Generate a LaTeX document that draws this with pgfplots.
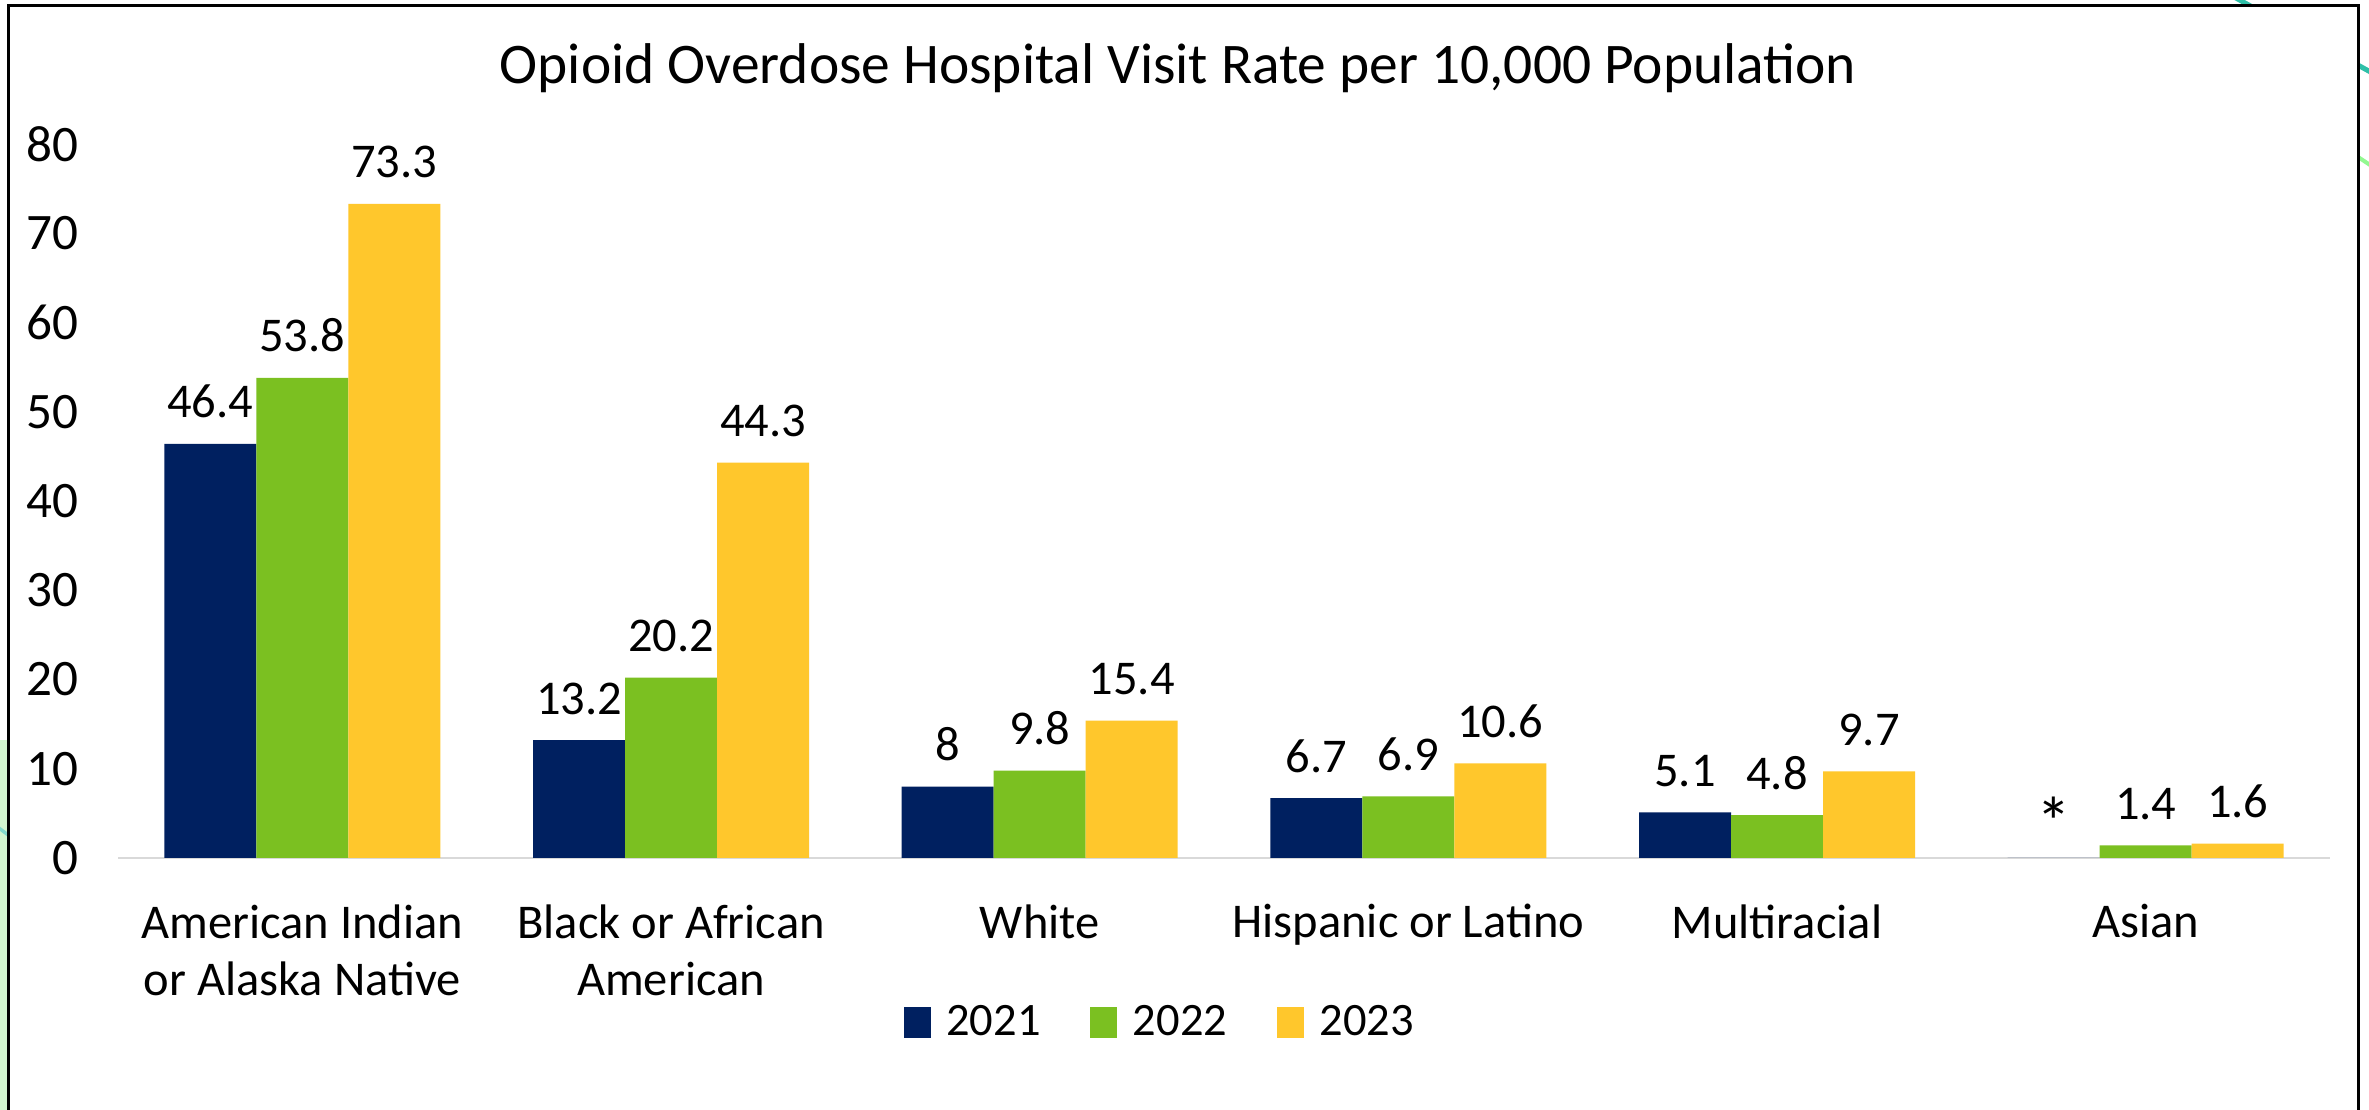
\documentclass[border=0pt]{standalone}
\usepackage{pgfplots}
\pgfplotsset{compat=1.18}
\usepackage{fontspec}
\setmainfont{Carlito}
\definecolor{cNavy}{HTML}{002060}
\definecolor{cGreen}{HTML}{7BC021}
\definecolor{cYellow}{HTML}{FFC72C}
\definecolor{cTeal}{HTML}{2FBFA8}
\definecolor{cLight}{HTML}{D2F5CF}
\begin{document}
\begin{tikzpicture}[x=0.3bp,y=0.3bp]
\path[use as bounding box] (0,0) rectangle (2369,1110);
% decorative background strokes
\fill[cLight] (0,0) rectangle (8,370);
\draw[cTeal, line width=1.5bp] (2225,1118) -- (2385,1030);
\draw[cLight!70!green, line width=1.2bp] (2340,965) -- (2385,935);
\draw[cTeal!60, line width=1.0bp] (-5,285) -- (12,272);
% frame
\fill[white] (8,0) rectangle (2358,1104);
\draw[black, line width=0.9bp] (8,0) -- (8,1104) -- (2358,1104) -- (2358,0);
\node[font=\fontsize{17.3}{20}\selectfont] at (1178,1042) {Opioid Overdose Hospital Visit Rate per 10,000 Population};
\begin{axis}[
  at={(35.4bp,75.6bp)}, anchor=south west,
  scale only axis, width=663.6bp, height=214.2bp,
  xmin=-0.5, xmax=5.5, ymin=0, ymax=80,
  ybar=0pt, bar width=27.6bp,
  axis lines*=left,
  y axis line style={draw=none},
  x axis line style={draw=black!15, line width=0.6bp, -},
  major tick length=0pt,
  ytick={0,10,...,80},
  xtick={0,1,2,3,4,5},
  xticklabels={{American Indian\\or Alaska Native},{Black or African\\American},White,Hispanic or Latino,Multiracial,Asian},
  /pgf/number format/assume math mode=true,
  xticklabel style={font=\fontsize{14.6}{17.3}\selectfont, align=center, anchor=north, yshift=-10.4bp},
  yticklabel style={font=\fontsize{15.4}{18}\selectfont, anchor=east, xshift=-8.5bp},
  nodes near coords,
  point meta=explicit symbolic,
  every node near coord/.append style={font=\fontsize{14.6}{17}\selectfont, inner sep=0pt, yshift=7.5bp, black},
  legend columns=3,
  legend style={draw=none, at={(0.472,-0.231)}, anchor=center, font=\fontsize{14}{16}\selectfont,
    /tikz/every odd column/.append style={column sep=2.7bp},
    /tikz/every even column/.append style={column sep=12.9bp}},
  legend image code/.code={\fill[#1] (0bp,-4.65bp) rectangle (8.1bp,4.65bp);},
]
\addplot[fill=cNavy, draw=none] coordinates {(0,46.4)[46.4] (1,13.2)[13.2] (2,8)[8] (3,6.7)[6.7] (4,5.1)[5.1] (5,0)[{\raisebox{-4.7bp}[0pt][0pt]{\fontsize{21}{21}\selectfont *}}]};
\addplot[fill=cGreen, draw=none] coordinates {(0,53.8)[53.8] (1,20.2)[20.2] (2,9.8)[9.8] (3,6.9)[6.9] (4,4.8)[4.8] (5,1.4)[1.4]};
\addplot[fill=cYellow, draw=none] coordinates {(0,73.3)[73.3] (1,44.3)[44.3] (2,15.4)[15.4] (3,10.6)[10.6] (4,9.7)[9.7] (5,1.6)[1.6]};
\legend{2021,2022,2023}
\end{axis}
\end{tikzpicture}
\end{document}
